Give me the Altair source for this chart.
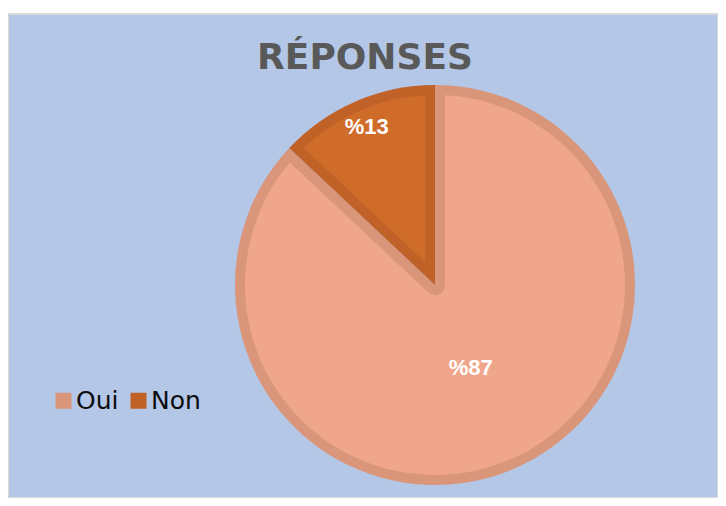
import math
import altair as alt
import pandas as pd

TITLE = "RÉPONSES"
categories = ["Oui", "Non"]
values = [87, 13]

fill_colors = ["#F0A68A", "#D06C2A"]
edge_colors = ["#DA967A", "#C06228"]

total = sum(values)
df = pd.DataFrame({"category": categories, "value": values, "order": list(range(len(values)))})

CX, CY = 427, 271
R_OUT, EDGE = 200, 10
R_IN = R_OUT - EDGE


def pad_for(inner):
    rp = math.sqrt(inner ** 2 + R_IN ** 2)
    return 2 * math.asin(EDGE / rp)


theta_scale = alt.Scale(domain=[0, total])

base = (
    alt.Chart(df)
    .transform_window(end="sum(value)", sort=[alt.SortField("order")], frame=[None, 0])
    .transform_calculate(start="datum.end - datum.value", mid="datum.end - datum.value/2",
                         label="'%' + datum.value")
)

edges = base.mark_arc(radius=R_OUT).encode(
    theta=alt.Theta("start:Q", scale=theta_scale, stack=None),
    theta2="end:Q",
    color=alt.Color(
        "category:N",
        scale=alt.Scale(domain=categories, range=edge_colors),
        sort=categories,
        legend=alt.Legend(
            title=None, orient="none", legendX=43, legendY=374, direction="horizontal",
            symbolType="square", symbolSize=256, symbolStrokeWidth=0,
            labelFont="DejaVu Sans", labelFontSize=25, labelColor="#0D0D0D",
            labelOffset=0, columnPadding=7, padding=0,
        ),
    ),
    x=alt.value(CX),
    y=alt.value(CY),
)

inner_r = {"Oui": 10, "Non": 25}
label_r = {"Oui": 90, "Non": 172}

layers = [edges]
for cat, col in zip(categories, fill_colors):
    layers.append(
        base.transform_filter(alt.datum.category == cat)
        .mark_arc(radius=R_IN, radius2=inner_r[cat], padAngle=pad_for(inner_r[cat]), color=col)
        .encode(
            theta=alt.Theta("start:Q", scale=theta_scale, stack=None),
            theta2="end:Q",
            x=alt.value(CX),
            y=alt.value(CY),
        )
    )
for cat in categories:
    layers.append(
        base.transform_filter(alt.datum.category == cat)
        .mark_text(radius=label_r[cat], font="Liberation Sans", fontSize=22, fontWeight="bold",
                   color="white", align="center", baseline="middle")
        .encode(
            theta=alt.Theta("mid:Q", scale=theta_scale, stack=None),
            text="label:N",
            x=alt.value(CX),
            y=alt.value(CY),
        )
    )

title_layer = alt.Chart(pd.DataFrame({"t": [TITLE]})).mark_text(
    font="DejaVu Sans", fontSize=36, fontWeight="bold", color="#595959",
    align="center", baseline="alphabetic",
).encode(text="t:N", x=alt.value(357), y=alt.value(55))
layers.append(title_layer)

chart = (
    alt.layer(*layers)
    .properties(width=710, height=484, padding={"left": 0, "top": 6, "right": 0, "bottom": 0},
                autosize=alt.AutoSizeParams(type="none"), background="white")
    .configure_view(fill="#B4C7E7", stroke="#D9D9D9", strokeWidth=2)
)

chart.save("out.html", embed_options={"renderer": "svg", "actions": False})
